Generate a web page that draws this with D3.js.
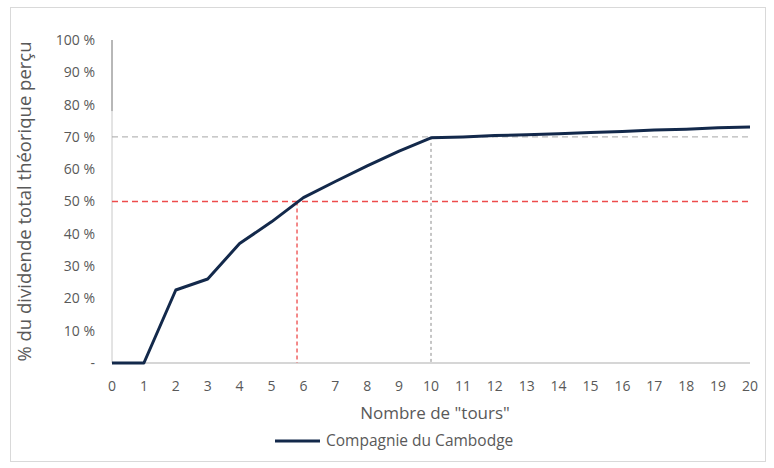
<!DOCTYPE html>
<html>
<head>
<meta charset="utf-8">
<script src="https://cdn.jsdelivr.net/npm/d3@7"></script>
<style>
  body { margin: 0; background: #fff; }
  text { font-family: "Open Sans", "Liberation Sans", sans-serif; fill: #595959; }
</style>
</head>
<body>
<div id="chart"></div>
<script>
const width = 774;
const height = 468;
const margin = { top: 40, bottom: 105, left: 112, right: 24 };

// Datos
const tours = [0, 1, 2, 3, 4, 5, 6, 7, 8, 9, 10, 11, 12, 13, 14, 15, 16, 17, 18, 19, 20];
const cambodge = [0, 0, 0.226, 0.26, 0.37, 0.437, 0.512, 0.562, 0.61, 0.656, 0.697,
  0.700, 0.704, 0.707, 0.710, 0.714, 0.717, 0.721, 0.724, 0.728, 0.731];
const yTicks = [0, 0.1, 0.2, 0.3, 0.4, 0.5, 0.6, 0.7, 0.8, 0.9, 1];
const seriesName = "Compagnie du Cambodge";
const halfTour = 5.8; // tour où l'on atteint 50 %

const svg = d3.select("div#chart").append("svg")
  .attr("width", width).attr("height", height);

// cadre
svg.append("rect")
  .attr("x", 10.5).attr("y", 7.5)
  .attr("width", 755).attr("height", 454)
  .attr("fill", "none").attr("stroke", "#d9d9d9");

const x = d3.scaleLinear().domain([0, 20]).range([margin.left, width - margin.right]);
const y = d3.scaleLinear().domain([0, 1]).range([height - margin.bottom, margin.top]);

// axe Y (ligne)
svg.append("line")
  .attr("x1", x(0)).attr("x2", x(0))
  .attr("y1", y(1)).attr("y2", y(0))
  .attr("stroke", "#c8c8c8");
svg.append("line")
  .attr("x1", x(0)).attr("x2", x(0))
  .attr("y1", y(1)).attr("y2", y(0.78))
  .attr("stroke", "#8c8c8c");

// axe X (ligne)
svg.append("line")
  .attr("x1", x(0)).attr("x2", x(20))
  .attr("y1", y(0)).attr("y2", y(0))
  .attr("stroke", "#c8c8c8").attr("stroke-width", 1.5);

// ticks Y
svg.append("g").selectAll("text")
  .data(yTicks).enter().append("text")
  .attr("x", 95)
  .attr("y", (d) => y(d))
  .attr("dy", "0.35em")
  .attr("text-anchor", "end")
  .style("font-size", "14px")
  .text((d) => d === 0 ? "-" : Math.round(d * 100) + " %");

// ticks X
svg.append("g").selectAll("text")
  .data(tours).enter().append("text")
  .attr("x", (d) => x(d))
  .attr("y", y(0) + 28)
  .attr("text-anchor", "middle")
  .style("font-size", "14px")
  .text((d) => d);

// lignes de référence
svg.append("line")
  .attr("x1", x(0)).attr("x2", x(20))
  .attr("y1", y(0.7)).attr("y2", y(0.7))
  .attr("stroke", "#a6a6a6").attr("stroke-dasharray", "6,4");
svg.append("line")
  .attr("x1", x(10)).attr("x2", x(10))
  .attr("y1", y(0.7)).attr("y2", y(0))
  .attr("stroke", "#8c8c8c").attr("stroke-dasharray", "3,3");
svg.append("line")
  .attr("x1", x(0)).attr("x2", x(20))
  .attr("y1", y(0.5)).attr("y2", y(0.5))
  .attr("stroke", "#ee4b4b").attr("stroke-width", 1.3).attr("stroke-dasharray", "6,4");
svg.append("line")
  .attr("x1", x(halfTour)).attr("x2", x(halfTour))
  .attr("y1", y(0.5)).attr("y2", y(0))
  .attr("stroke", "#ee4b4b").attr("stroke-width", 1.3).attr("stroke-dasharray", "4,3");

// courbe
const line = d3.line()
  .x((d, i) => x(tours[i]))
  .y((d) => y(d));

svg.append("path")
  .datum(cambodge)
  .attr("d", line)
  .attr("fill", "none")
  .attr("stroke", "#13294b")
  .attr("stroke-width", 3)
  .attr("stroke-linejoin", "round");

// titres
svg.append("text")
  .attr("transform", `translate(25, ${y(0.5)}) rotate(-90)`)
  .attr("text-anchor", "middle")
  .attr("dy", "0.35em")
  .style("font-size", "18.5px")
  .text("% du dividende total théorique perçu");

svg.append("text")
  .attr("x", x(10) + 4)
  .attr("y", 419)
  .attr("text-anchor", "middle")
  .style("font-size", "17px")
  .text('Nombre de "tours"');

// légende
svg.append("line")
  .attr("x1", 275).attr("x2", 320)
  .attr("y1", 441).attr("y2", 441)
  .attr("stroke", "#13294b").attr("stroke-width", 3);
svg.append("text")
  .attr("x", 326).attr("y", 441)
  .attr("dy", "0.35em")
  .style("font-size", "15.5px")
  .text(seriesName);
</script>
</body>
</html>
